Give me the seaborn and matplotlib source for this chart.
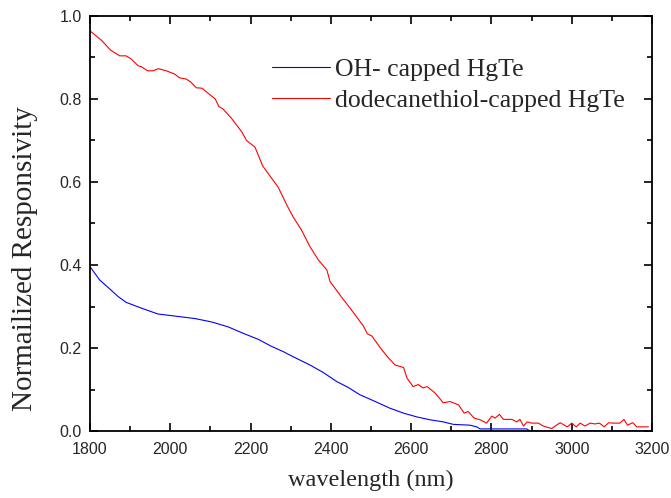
import numpy as np
import pandas as pd
import matplotlib
matplotlib.use("Agg")
import matplotlib.pyplot as plt
from matplotlib.ticker import MultipleLocator
import seaborn as sns

# ---- data ----
red_wl = [1800, 1828, 1851, 1874, 1890, 1903, 1920, 1928, 1943, 1957, 1970, 1990, 2011, 2023,
          2040, 2052, 2065, 2079, 2094, 2112, 2121, 2131, 2152, 2178, 2190, 2211, 2230, 2269,
          2290, 2306, 2327, 2348, 2369, 2390, 2398, 2431, 2448, 2481, 2491, 2502, 2522, 2539,
          2560, 2581, 2590, 2605, 2618, 2629, 2640, 2659, 2680, 2697, 2718, 2732, 2742, 2757,
          2772, 2788, 2801, 2809, 2820, 2830, 2851, 2863, 2871, 2880, 2889, 2900, 2917, 2929,
          2950, 2971, 2989, 3000, 3011, 3021, 3033, 3046, 3058, 3069, 3081, 3092, 3102, 3120,
          3130, 3139, 3152, 3162, 3191]
red_val = [0.964, 0.942, 0.918, 0.904, 0.904, 0.896, 0.880, 0.878, 0.868, 0.868, 0.873, 0.868,
           0.860, 0.851, 0.848, 0.840, 0.827, 0.826, 0.814, 0.800, 0.782, 0.776, 0.754, 0.721,
           0.700, 0.684, 0.639, 0.587, 0.545, 0.516, 0.484, 0.444, 0.412, 0.388, 0.360, 0.317,
           0.296, 0.253, 0.234, 0.229, 0.202, 0.181, 0.159, 0.153, 0.127, 0.107, 0.112, 0.104,
           0.107, 0.092, 0.068, 0.071, 0.063, 0.043, 0.047, 0.031, 0.027, 0.019, 0.036, 0.031,
           0.040, 0.028, 0.028, 0.022, 0.028, 0.012, 0.022, 0.019, 0.019, 0.012, 0.006, 0.020,
           0.010, 0.019, 0.010, 0.019, 0.012, 0.019, 0.017, 0.019, 0.010, 0.020, 0.019, 0.019,
           0.028, 0.014, 0.020, 0.010, 0.010]

blue_wl = [1800, 1824, 1845, 1870, 1890, 1928, 1969, 2011, 2061, 2102, 2144, 2185, 2219, 2250,
           2282, 2306, 2348, 2381, 2415, 2443, 2473, 2506, 2547, 2581, 2614, 2647, 2680, 2705,
           2747, 2763, 2772, 2888, 2896, 3200]
blue_val = [0.396, 0.364, 0.346, 0.324, 0.310, 0.296, 0.282, 0.277, 0.271, 0.263, 0.251, 0.234,
            0.221, 0.205, 0.191, 0.179, 0.159, 0.141, 0.119, 0.105, 0.087, 0.073, 0.055, 0.043,
            0.034, 0.027, 0.022, 0.016, 0.014, 0.010, 0.005, 0.005, 0.0, 0.0]

labels = ["OH- capped HgTe", "dodecanethiol-capped HgTe"]
x_ticks = [1800, 2000, 2200, 2400, 2600, 2800, 3000, 3200]
y_ticks = [0.0, 0.2, 0.4, 0.6, 0.8, 1.0]

# ---- style ----
sns.set_style("ticks")
plt.rcParams["font.family"] = ["Liberation Sans", "DejaVu Sans"]

fig = plt.figure(figsize=(6.71, 4.98), dpi=100)
ax = fig.add_axes([90 / 671, 67 / 498, 562 / 671, 415 / 498])

blue_df = pd.DataFrame({"wl": blue_wl, "val": blue_val})
red_df = pd.DataFrame({"wl": red_wl, "val": red_val})
sns.lineplot(data=blue_df, x="wl", y="val", ax=ax, color="#0000FF", lw=0.8, label=labels[0])
sns.lineplot(data=red_df, x="wl", y="val", ax=ax, color="#FF0000", lw=0.8, label=labels[1])

ax.set_xlim(1800, 3200)
ax.set_ylim(0, 1.0)
ax.set_xticks(x_ticks)
ax.set_yticks(y_ticks)
ax.set_xticklabels([str(t) for t in x_ticks])
ax.set_yticklabels([f"{t:.1f}" for t in y_ticks])
ax.xaxis.set_minor_locator(MultipleLocator(100))
ax.yaxis.set_minor_locator(MultipleLocator(0.1))
ax.tick_params(which="both", direction="in", top=True, right=True, width=1.2, color="black")
ax.tick_params(which="major", length=6, labelsize=11.5)
ax.tick_params(axis="x", which="major", pad=8)
ax.tick_params(axis="y", which="major", pad=6)
ax.tick_params(which="minor", length=3.5)
for s in ax.spines.values():
    s.set_linewidth(1.3)
    s.set_color("black")

serif = ["Liberation Serif", "DejaVu Serif"]
ax.set_xlabel("wavelength (nm)", fontsize=17.5, family=serif, labelpad=9.5)
ax.set_ylabel("Normailized Responsivity", fontsize=21, family=serif)
ax.yaxis.set_label_coords((38 - 90) / 562, (431 - 259) / 415)

leg = ax.legend(loc="upper left", bbox_to_anchor=(259 / 671, 1 - 45 / 498),
                bbox_transform=fig.transFigure, frameon=False,
                prop={"family": serif, "size": 18.5},
                handlelength=2.26, handletextpad=0.2, labelspacing=0.32, borderpad=0)

fig.savefig("out.png", dpi=100)
